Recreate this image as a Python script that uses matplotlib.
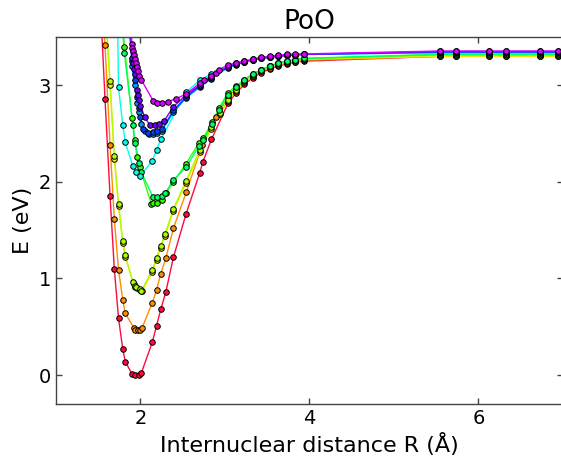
import numpy as np
import matplotlib
matplotlib.use("Agg")
import matplotlib.pyplot as plt

# long-range sample points shared by all states
r_far = [5.54, 5.74, 6.13, 6.33, 6.73, 6.94]
r_tail = [3.13, 3.23, 3.33, 3.43, 3.53, 3.63, 3.73, 3.83, 3.93]

# state 0 (ground state)
r0 = [1.52, 1.58, 1.64, 1.69, 1.74, 1.79, 1.82, 1.90, 1.94, 1.98, 2.01,
      2.14, 2.19, 2.24, 2.30, 2.39, 2.54, 2.70, 2.74, 2.84, 3.04] + r_tail + r_far
e0 = [3.95, 2.86, 1.85, 1.10, 0.59, 0.27, 0.14, 0.01, 0.00, 0.00, 0.02,
      0.34, 0.51, 0.68, 0.86, 1.22, 1.67, 2.09, 2.21, 2.44, 2.82,
      2.92, 3.01, 3.08, 3.13, 3.17, 3.20, 3.22, 3.24, 3.25,
      3.30, 3.30, 3.30, 3.30, 3.30, 3.30]

# state 1
r1 = [1.52, 1.58, 1.64, 1.69, 1.74, 1.79, 1.82, 1.92, 1.94, 1.97, 2.00, 2.02,
      2.14, 2.19, 2.24, 2.30, 2.39, 2.54, 2.73, 2.89, 3.04] + r_tail + r_far
e1 = [4.30, 3.42, 2.38, 1.62, 1.09, 0.78, 0.64, 0.49, 0.47, 0.465, 0.47, 0.49,
      0.75, 0.88, 1.05, 1.21, 1.52, 1.89, 2.38, 2.67, 2.88,
      2.96, 3.04, 3.10, 3.15, 3.18, 3.21, 3.23, 3.245, 3.26,
      3.30, 3.30, 3.30, 3.30, 3.30, 3.30]

# state 2
r2 = [1.56, 1.64, 1.69, 1.74, 1.79, 1.82, 1.92, 1.94, 1.96, 2.00, 2.02,
      2.14, 2.19, 2.24, 2.29, 2.39, 2.54, 2.70, 2.84, 2.94, 3.04] + r_tail + r_far
e2 = [4.20, 3.00, 2.24, 1.75, 1.37, 1.22, 0.94, 0.91, 0.90, 0.88, 0.87,
      1.07, 1.19, 1.32, 1.44, 1.70, 1.99, 2.31, 2.55, 2.70, 2.84,
      2.94, 3.03, 3.10, 3.155, 3.195, 3.225, 3.245, 3.255, 3.27,
      3.30, 3.30, 3.30, 3.30, 3.30, 3.30]

# state 3
r3 = [1.55, 1.64, 1.69, 1.74, 1.79, 1.82, 1.91, 1.93, 1.95, 1.99, 2.01,
      2.14, 2.19, 2.24, 2.29, 2.39, 2.54, 2.70, 2.84, 2.94, 3.04] + r_tail + r_far
e3 = [4.20, 3.04, 2.27, 1.77, 1.39, 1.24, 0.96, 0.92, 0.91, 0.89, 0.87,
      1.09, 1.21, 1.34, 1.46, 1.72, 2.01, 2.33, 2.57, 2.71, 2.85,
      2.95, 3.04, 3.11, 3.16, 3.20, 3.23, 3.25, 3.26, 3.275,
      3.31, 3.31, 3.31, 3.31, 3.31, 3.31]

# state 4
r4 = [1.79, 1.81, 1.90, 1.93, 1.96, 1.99, 2.13, 2.15, 2.20, 2.25,
      2.30, 2.39, 2.54, 2.69, 2.74, 2.85, 2.93, 3.03] + r_tail + r_far
e4 = [3.62, 3.40, 2.66, 2.43, 2.26, 2.15, 1.77, 1.78, 1.78, 1.81,
      1.88, 2.00, 2.19, 2.40, 2.45, 2.62, 2.76, 2.92,
      2.99, 3.06, 3.12, 3.16, 3.20, 3.23, 3.25, 3.26, 3.275,
      3.32, 3.32, 3.32, 3.32, 3.32, 3.32]

# state 5
r5 = [1.79, 1.81, 1.91, 1.94, 1.98, 2.01, 2.15, 2.20, 2.25, 2.29,
      2.39, 2.54, 2.69, 2.74, 2.85, 2.93, 3.03] + r_tail + r_far
e5 = [3.55, 3.33, 2.59, 2.40, 2.20, 2.10, 1.84, 1.84, 1.85, 1.88,
      2.02, 2.15, 2.37, 2.43, 2.60, 2.74, 2.90,
      2.98, 3.05, 3.12, 3.16, 3.20, 3.23, 3.25, 3.265, 3.28,
      3.32, 3.32, 3.32, 3.32, 3.32, 3.32]

# state 6
r6 = [1.73, 1.74, 1.79, 1.82, 1.91, 1.95, 2.00, 2.14, 2.19, 2.24,
      2.54, 2.70, 2.84, 3.03] + r_tail + r_far
e6 = [3.60, 2.98, 2.59, 2.41, 2.16, 2.10, 2.06, 2.22, 2.33, 2.44,
      2.93, 3.05, 3.12, 3.20,
      3.23, 3.25, 3.27, 3.285, 3.295, 3.305, 3.31, 3.315, 3.32,
      3.335, 3.335, 3.335, 3.335, 3.335, 3.335]

# state 7
r7 = [1.87, 1.90, 1.93, 1.96, 1.98, 2.01, 2.05, 2.10, 2.15, 2.20, 2.25,
      2.39, 2.54, 2.70, 2.84, 3.03] + r_tail + r_far
e7 = [3.60, 3.20, 3.00, 2.82, 2.72, 2.60, 2.53, 2.50, 2.50, 2.51, 2.53,
      2.72, 2.87, 2.98, 3.07, 3.18,
      3.21, 3.24, 3.26, 3.28, 3.29, 3.30, 3.31, 3.315, 3.32,
      3.34, 3.34, 3.34, 3.34, 3.34, 3.34]

# state 8
r8 = [1.87, 1.90, 1.93, 1.96, 1.98, 2.00, 2.03, 2.09, 2.15, 2.20, 2.26,
      2.39, 2.54, 2.70, 2.84, 3.03] + r_tail + r_far
e8 = [3.60, 3.25, 3.06, 2.88, 2.77, 2.67, 2.55, 2.51, 2.52, 2.53, 2.55,
      2.74, 2.88, 2.99, 3.08, 3.19,
      3.22, 3.245, 3.265, 3.28, 3.29, 3.30, 3.31, 3.315, 3.32,
      3.345, 3.345, 3.345, 3.345, 3.345, 3.345]

# state 9
r9 = [1.88, 1.90, 1.91, 1.92, 1.93, 1.96, 1.97, 1.98, 2.00, 2.05, 2.11,
      2.17, 2.22, 2.28, 2.39, 2.54, 2.70, 2.84, 3.03] + r_tail + r_far
e9 = [3.60, 3.28, 3.23, 3.17, 3.12, 2.95, 2.90, 2.85, 2.79, 2.67, 2.59,
      2.59, 2.60, 2.63, 2.78, 2.90, 3.00, 3.09, 3.19,
      3.22, 3.245, 3.265, 3.28, 3.29, 3.30, 3.31, 3.315, 3.32,
      3.35, 3.35, 3.35, 3.35, 3.35, 3.35]

# state 10
r10 = [1.89, 1.897, 1.902, 1.909, 1.921, 1.937, 1.949, 1.961, 1.976, 1.988, 2.008,
       2.15, 2.20, 2.26, 2.32, 2.42, 2.54, 2.70, 2.75, 2.84, 2.89, 2.93, 3.03] + r_tail + r_far
e10 = [3.60, 3.43, 3.39, 3.36, 3.31, 3.27, 3.23, 3.19, 3.15, 3.10, 3.06,
       2.84, 2.82, 2.82, 2.83, 2.86, 2.91, 3.02, 3.05, 3.10, 3.13, 3.16, 3.21,
       3.23, 3.25, 3.27, 3.29, 3.30, 3.31, 3.32, 3.323, 3.325,
       3.355, 3.355, 3.355, 3.355, 3.355, 3.355]

states = [(r0, e0), (r1, e1), (r2, e2), (r3, e3), (r4, e4), (r5, e5),
          (r6, e6), (r7, e7), (r8, e8), (r9, e9), (r10, e10)]

colors = ['#ff0a3c', '#ff8c00', '#ffe600', '#aaff00', '#33ff00', '#00ff66',
          '#00ffee', '#0099ff', '#0040ff', '#7000ff', '#d800ff']

fig = plt.figure(figsize=(5.61, 4.58), dpi=100)
ax = fig.add_axes([0.0998, 0.1179, 0.9037, 0.8013])

for (r, e), c in zip(states, colors):
    ax.plot(r, e, '-', color=c, lw=1.0, zorder=2)
    ax.plot(r, e, 'o', color=c, ms=4.0, mec='k', mew=0.7, zorder=3)

ax.set_xlim(1, 7)
ax.set_ylim(-0.3, 3.5)
ax.set_xticks([2, 4, 6])
ax.set_yticks([0, 1, 2, 3])
ax.tick_params(direction='in', length=4, width=1, top=True, right=True,
               labelsize=14, color='#444444')
for s in ax.spines.values():
    s.set_color('#444444')
    s.set_linewidth(1.0)

ax.set_title('PoO', fontsize=19)
ax.set_xlabel('Internuclear distance R (Å)', fontsize=16)
ax.set_ylabel('E (eV)', fontsize=16)

fig.savefig('out.png', dpi=100)
